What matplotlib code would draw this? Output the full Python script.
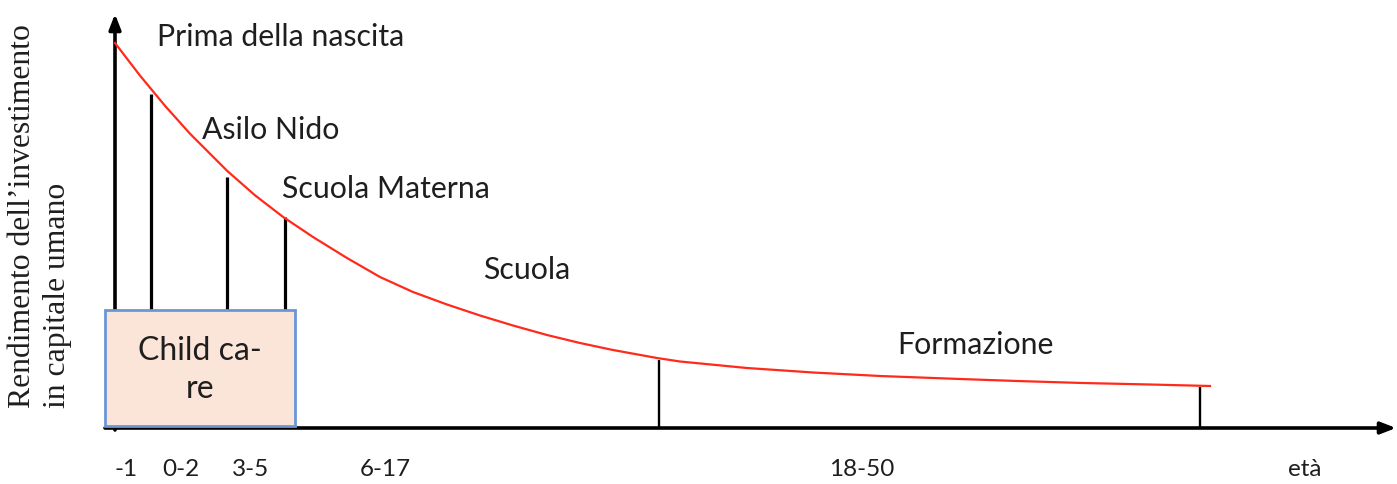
import matplotlib.pyplot as plt
from matplotlib.patches import Rectangle

# curve: rendimento dell'investimento
curve_x = [0, 25, 50, 75, 112, 140, 168, 198, 232, 265, 298, 332, 365, 398,
           432, 465, 498, 542, 565, 632, 698, 765, 845, 902, 968, 1035, 1095]
curve_y = [385, 352.4, 322.2, 294.3, 257.3, 232.7, 211.1, 191, 170, 151, 136,
           123.5, 112.5, 102.5, 93, 85, 78, 70, 66.5, 60, 55.5, 52, 49, 47, 45, 43.5, 42]

# vertical markers
stem_x = [36, 112, 170, 544, 1085]
stem_top = [334, 251, 211, 68, 41]
stem_lw = [2.3, 2.3, 2.3, 1.7, 1.7]

# stage labels
stage_labels = ["Prima della nascita", "Asilo Nido", "Scuola Materna", "Scuola", "Formazione"]
stage_x = [42, 87, 167, 368, 782]
stage_y = [391, 298, 239, 158, 83]

# age labels under the axis
age_labels = ["-1", "0-2", "3-5", "6-17", "18-50", "età"]
age_x = [11, 66, 136, 270, 747, 1190]

fig = plt.figure(figsize=(13.97, 4.84), dpi=100)
ax = fig.add_axes([0, 0, 1, 1])
ax.set_xlim(-115, 1282)
ax.set_ylim(-56, 428)
ax.axis('off')

txt = '#1e1e1e'
font = 'Lato'

# axes with arrows
ax.annotate('', xy=(0, 414), xytext=(0, -2),
            arrowprops=dict(arrowstyle='-|>,head_length=0.9,head_width=0.35',
                            lw=2.6, color='black', shrinkA=0, shrinkB=0))
ax.annotate('', xy=(1281, 0), xytext=(-10, 0),
            arrowprops=dict(arrowstyle='-|>,head_length=0.9,head_width=0.35',
                            lw=2.6, color='black', shrinkA=0, shrinkB=0))

for x, top, lw in zip(stem_x, stem_top, stem_lw):
    ax.plot([x, x], [0, top], color='black', lw=lw, solid_capstyle='butt', zorder=2)

ax.plot(curve_x, curve_y, color='#ff2a1a', lw=1.6, zorder=3)

# child care box
ax.add_patch(Rectangle((-10, 2), 190, 116, facecolor='#fbe5d8',
                       edgecolor='#6a96d8', lw=2, zorder=4))
ax.text(85, 58, "Child ca-\nre", ha='center', va='center', fontsize=23,
        family=font, color=txt, linespacing=1.35, zorder=5)

for lab, x, y in zip(stage_labels, stage_x, stage_y):
    ax.text(x, y, lab, ha='left', va='center', fontsize=21.8, family=font, color=txt)

for lab, x in zip(age_labels, age_x):
    ax.text(x, -42, lab, ha='center', va='center', fontsize=17.5, family=font, color=txt)

# y label (serif, two lines)
ax.text(-93, 20, "Rendimento dell\u2019investimento", rotation=90, rotation_mode='anchor',
        ha='left', va='center', fontsize=22.8, family='Liberation Serif', color=txt)
ax.text(-58, 20, "in capitale umano", rotation=90, rotation_mode='anchor',
        ha='left', va='center', fontsize=22.8, family='Liberation Serif', color=txt)

fig.savefig('out.png', dpi=100)
